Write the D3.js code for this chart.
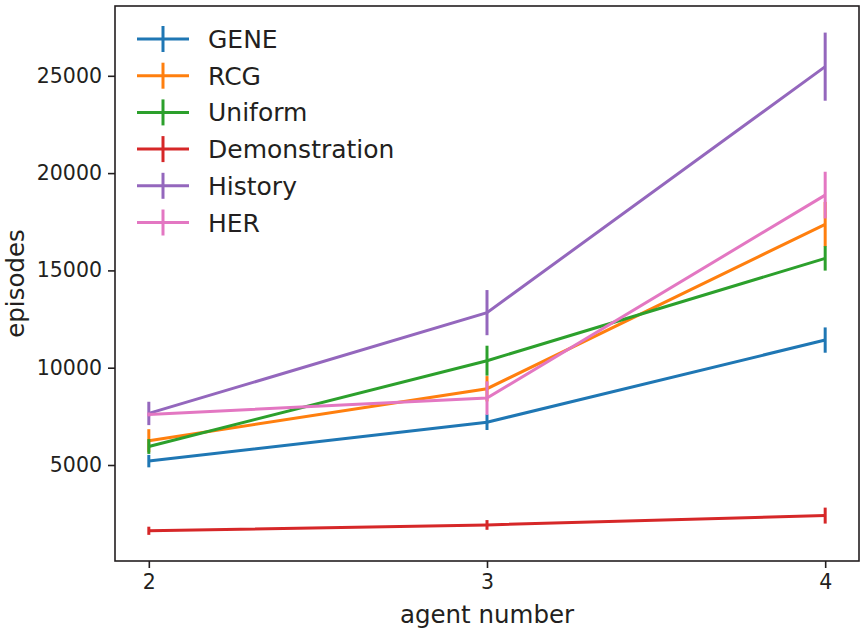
<!DOCTYPE html>
<html>
<head>
<meta charset="utf-8">
<script src="https://cdn.jsdelivr.net/npm/d3@7"></script>
<style>
  body { margin: 0; background: #fff; }
  text { font-family: "DejaVu Sans", sans-serif; fill: #231f20; }
</style>
</head>
<body>
<svg id="mainsvg" width="867" height="632"></svg>
<script>
// data
let agents = [2, 3, 4];
let seriesNames = ["GENE", "RCG", "Uniform", "Demonstration", "History", "HER"];
let seriesColors = ["#1f77b4", "#ff7f0e", "#2ca02c", "#d62728", "#9467bd", "#e377c2"];
let geneMean = [5200, 7200, 11420];
let geneErr = [320, 400, 650];
let rcgMean = [6250, 8920, 17370];
let rcgErr = [590, 650, 1150];
let uniformMean = [5950, 10360, 15620];
let uniformErr = [380, 770, 630];
let demoMean = [1620, 1920, 2400];
let demoErr = [210, 250, 410];
let historyMean = [7650, 12830, 25470];
let historyErr = [600, 1160, 1750];
let herMean = [7600, 8440, 18870];
let herErr = [100, 860, 1200];
let yTicks = [5000, 10000, 15000, 20000, 25000];
let xTicks = [2, 3, 4];

let means = [geneMean, rcgMean, uniformMean, demoMean, historyMean, herMean];
let errs = [geneErr, rcgErr, uniformErr, demoErr, historyErr, herErr];

let svg = d3.select("#mainsvg");
let plotLeft = 115, plotRight = 859, plotTop = 6, plotBottom = 561;

let x = d3.scaleLinear().domain([1.9, 4.1]).range([plotLeft, plotRight]);
let y = d3.scaleLinear().domain([67, 28587]).range([plotBottom, plotTop]);

let axisColor = "#231f20";

// series
let plotG = svg.append("g");
let line = d3.line().x((d, i) => x(agents[i])).y(d => y(d));
for (let s = 0; s < seriesNames.length; s++) {
    let g = plotG.append("g");
    g.append("path")
        .attr("d", line(means[s]))
        .attr("fill", "none")
        .attr("stroke", seriesColors[s])
        .attr("stroke-width", 3);
    g.selectAll("line.err").data(means[s]).enter()
        .append("line")
        .attr("class", "err")
        .attr("x1", (d, i) => x(agents[i]))
        .attr("x2", (d, i) => x(agents[i]))
        .attr("y1", (d, i) => y(d - errs[s][i]))
        .attr("y2", (d, i) => y(d + errs[s][i]))
        .attr("stroke", seriesColors[s])
        .attr("stroke-width", 3);
}

// axes
let xAxis = d3.axisBottom(x).tickValues(xTicks).tickFormat(d3.format("d")).tickSize(7).tickPadding(6);
let yAxis = d3.axisLeft(y).tickValues(yTicks).tickFormat(d3.format("d")).tickSize(7).tickPadding(6);

let xg = svg.append("g").attr("transform", "translate(0," + plotBottom + ")").call(xAxis);
let yg = svg.append("g").attr("transform", "translate(" + plotLeft + ",0)").call(yAxis);
[xg, yg].forEach(g => {
    g.attr("font-size", null).attr("font-family", null);
    g.select(".domain").remove();
    g.selectAll(".tick line").attr("stroke", axisColor).attr("stroke-width", 1.6);
    g.selectAll(".tick text")
        .attr("fill", axisColor)
        .style("font-size", "20.5px")
        .style("font-family", "DejaVu Sans, sans-serif");
});

// frame
svg.append("rect")
    .attr("x", plotLeft).attr("y", plotTop)
    .attr("width", plotRight - plotLeft).attr("height", plotBottom - plotTop)
    .attr("fill", "none")
    .attr("stroke", axisColor)
    .attr("stroke-width", 1.6);

// axis labels
svg.append("text")
    .attr("x", (plotLeft + plotRight) / 2).attr("y", 623)
    .attr("text-anchor", "middle")
    .style("font-size", "24.5px")
    .text("agent number");
svg.append("text")
    .attr("transform", "translate(24," + (plotTop + plotBottom) / 2 + ") rotate(-90)")
    .attr("text-anchor", "middle")
    .style("font-size", "24.5px")
    .text("episodes");

// legend
let legendG = svg.append("g");
let rowY = d3.range(seriesNames.length).map(i => 39 + i * 36.7);
let rows = legendG.selectAll("g.row").data(seriesNames).enter()
    .append("g").attr("class", "row")
    .attr("transform", (d, i) => "translate(0," + rowY[i] + ")");
rows.append("line")
    .attr("x1", 137).attr("x2", 189).attr("y1", 0).attr("y2", 0)
    .attr("stroke", (d, i) => seriesColors[i]).attr("stroke-width", 3);
rows.append("line")
    .attr("x1", 163).attr("x2", 163).attr("y1", -13).attr("y2", 13)
    .attr("stroke", (d, i) => seriesColors[i]).attr("stroke-width", 3);
rows.append("text")
    .attr("x", 208).attr("y", 0).attr("dy", "0.36em")
    .style("font-size", "25px")
    .text(d => d);
</script>
</body>
</html>
